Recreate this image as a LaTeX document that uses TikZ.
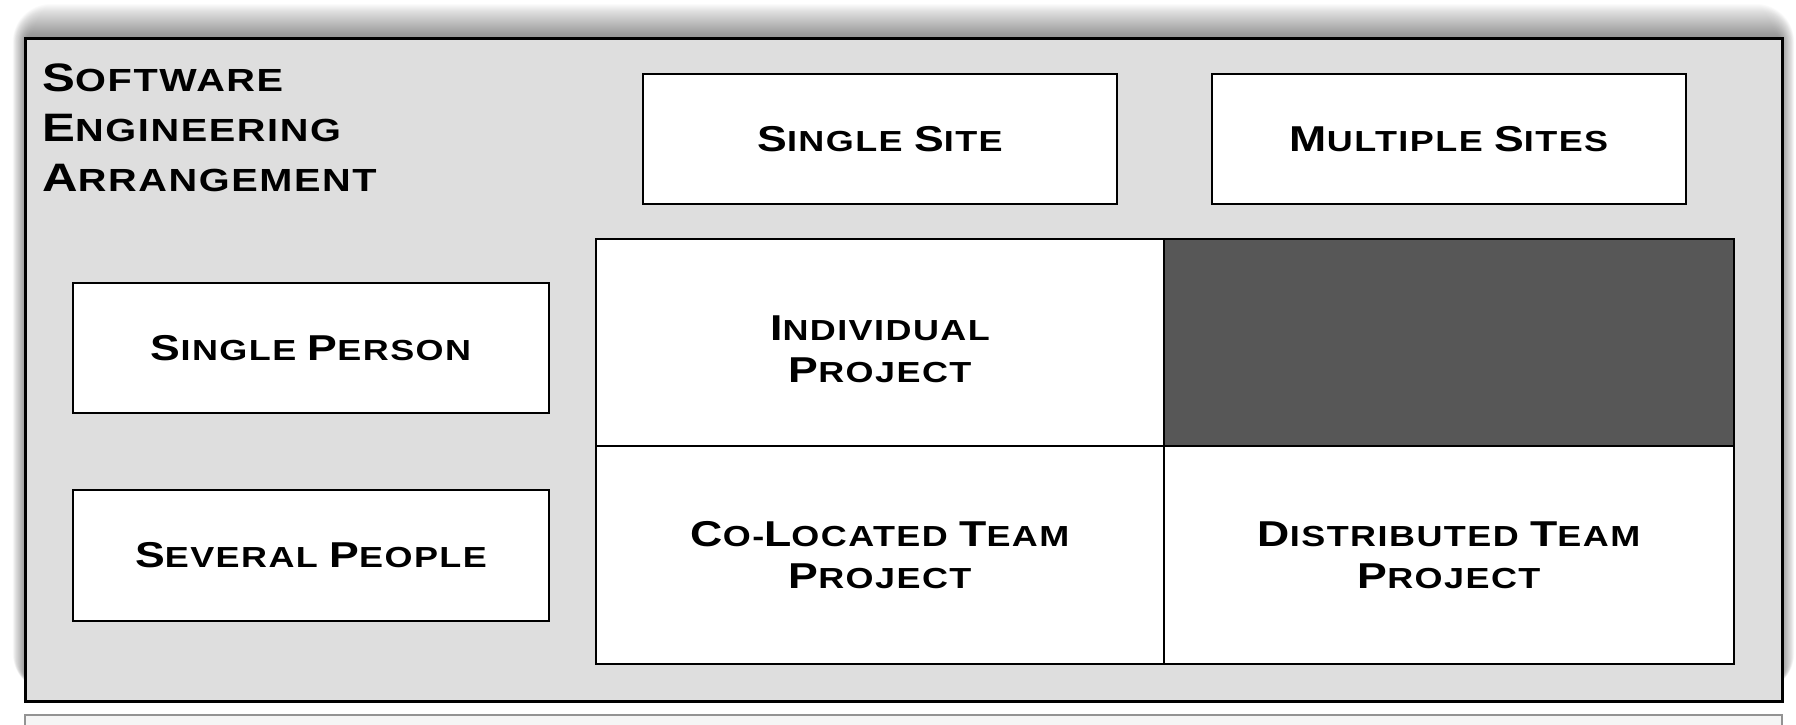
\documentclass[tikz,border=0pt]{standalone}
\usepackage{fontspec}
\usepackage{graphicx}
\newfontfamily\cpfont[FakeStretch=1.24,LetterSpace=5]{Liberation Sans}
% capital letter of a small-caps word
\newcommand\Cap[1]{\scalebox{1.24}{#1}}
\definecolor{panelgray}{HTML}{DEDEDE}
\definecolor{darkcell}{HTML}{575757}
\begin{document}
\begin{tikzpicture}[x=0.5pt,y=-0.5pt,
  lbl/.style={font=\cpfont\bfseries\fontsize{14.5}{21}\selectfont, align=center},
  whitebox/.style={lbl, draw, line width=1.4pt, fill=white, inner sep=0pt,
    minimum width=237pt, minimum height=65pt},
  cell/.style={draw, line width=1.4pt, fill=white, inner sep=0pt},
  titlefont/.style={font=\cpfont\bfseries\fontsize{16}{25}\selectfont, align=left}]
\useasboundingbox (0,0) rectangle (1796,724);
\begin{scope}
\clip (0,0) rectangle (1796,724);
% strip of the next panel below
\draw[draw=gray!85, line width=1pt, fill=gray!8] (25,715) rectangle (1782,780);
% soft shadow behind the main panel, strongest above it
\foreach \k in {1,...,38}{
  \pgfmathsetmacro\rc{0.5*\k}
  \fill[black, fill opacity=0.015, rounded corners=\rc pt]
    ({28-0.4*\k},{42-\k}) rectangle ({1779+0.4*\k},{678+0.35*\k});
}
% main panel
\node[draw, line width=1.5pt, fill=panelgray, inner sep=0pt,
  minimum width=878.5pt, minimum height=331.5pt] (panel) at (903.5,369.5) {};
\end{scope}

% heading (anchored at the baseline of its last line)
\node[titlefont, anchor=base west, inner sep=0pt] (title) at (42,191)
  {\Cap{S}OFTWARE\\\Cap{E}NGINEERING\\\Cap{A}RRANGEMENT};

% column headers
\node[whitebox] (single) at (880,139) {\Cap{S}INGLE \Cap{S}ITE};
\node[whitebox] (multi) at (1449,139) {\Cap{M}ULTIPLE \Cap{S}ITES};

% row headers
\node[whitebox, minimum width=238pt] (person) at (311,348) {\Cap{S}INGLE \Cap{P}ERSON};
\node[whitebox, minimum width=238pt, minimum height=65.5pt] (people) at (311,555.5) {\Cap{S}EVERAL \Cap{P}EOPLE};

% matrix of arrangements
\node[cell, minimum width=284pt, minimum height=103.5pt] (indiv) at (880,342.5) {};
\node[cell, fill=darkcell, minimum width=285pt, minimum height=103.5pt] (none) at (1449,342.5) {};
\node[cell, minimum width=284pt, minimum height=109pt] (colo) at (880,555) {};
\node[cell, minimum width=285pt, minimum height=109pt] (dist) at (1449,555) {};

\node[lbl] (indivtext) at ([yshift=-3.5pt]indiv.center) {\Cap{I}NDIVIDUAL\\\Cap{P}ROJECT};
\node[lbl] (colotext) at (colo.center) {\Cap{C}O-\Cap{L}OCATED \Cap{T}EAM\\\Cap{P}ROJECT};
\node[lbl] (disttext) at (dist.center) {\Cap{D}ISTRIBUTED \Cap{T}EAM\\\Cap{P}ROJECT};
\end{tikzpicture}
\end{document}
